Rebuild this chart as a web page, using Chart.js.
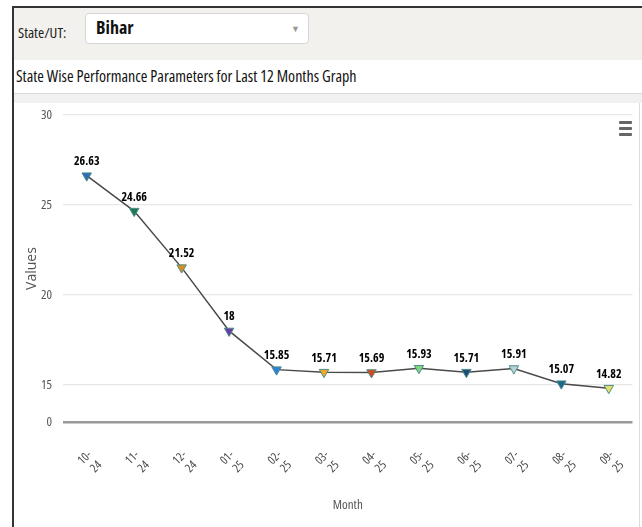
<!DOCTYPE html>
<html>
<head>
<meta charset="utf-8">
<script src="https://cdn.jsdelivr.net/npm/chart.js@4.4.1/dist/chart.umd.min.js"></script>
<style>
  html, body { margin:0; padding:0; background:#fff; width:642px; height:527px; overflow:hidden; }
  body { position:relative; font-family:'Open Sans',sans-serif; font-stretch:75%; }
  .frame-top { position:absolute; left:12px; top:6px; width:630px; height:2px; background:#333; }
  .frame-left { position:absolute; left:12px; top:6px; width:2px; height:521px; background:#333; }
  .header { position:absolute; left:14px; top:8px; width:628px; height:52px; background:#f2f1ed; }
  .lbl { position:absolute; left:4px; top:14px; font-size:15px; color:#222; white-space:nowrap; }
  .select { position:absolute; left:85px; top:13px; width:224px; height:31px; background:#fff; border:1px solid #d6d6d6; border-radius:4px; box-sizing:border-box; }
  .select .val { position:absolute; left:10px; top:1px; font-size:18px; font-weight:bold; color:#111; }
  .select .arr { position:absolute; right:8px; top:8px; font-size:9px; color:#999; font-stretch:100%; }
  .titlerow { position:absolute; left:14px; top:60px; width:628px; height:33px; background:#fff; border-bottom:1px solid #d8d8d8; }
  .title { position:absolute; left:2px; top:5px; font-size:16px; color:#111; white-space:nowrap; }
  .band { position:absolute; left:14px; top:94px; width:628px; height:9px; background:#f1f1f1; }
  .rline { position:absolute; left:639px; top:103px; width:1px; height:424px; background:#dcdcdc; }
  #wrap { position:absolute; left:13px; top:103px; width:626px; height:424px; }
  .menu { position:absolute; left:619px; top:119px; width:14px; height:19px; }
  .menu div { position:absolute; left:0; width:13px; height:3px; background:#666; border-radius:1px; }
</style>
</head>
<body>
<div class="frame-top"></div>
<div class="header">
  <div class="lbl">State/UT:</div>
</div>
<div class="select"><div class="val">Bihar</div><div class="arr">▼</div></div>
<div class="titlerow"><div class="title">State Wise Performance Parameters for Last 12 Months Graph</div></div>
<div class="band"></div>
<div class="frame-left"></div>
<div class="rline"></div>
<div id="wrap"><canvas id="c" width="626" height="424"></canvas></div>
<div class="menu"><div style="top:2px"></div><div style="top:8px"></div><div style="top:14px"></div></div>
<script>
const months = [['10-','24'],['11-','24'],['12-','24'],['01-','25'],['02-','25'],['03-','25'],['04-','25'],['05-','25'],['06-','25'],['07-','25'],['08-','25'],['09-','25']];
const values = [26.63, 24.66, 21.52, 18, 15.85, 15.71, 15.69, 15.93, 15.71, 15.91, 15.07, 14.82];
const markerColors = ['#2f6db5','#1f7a50','#d98c1f','#6a3aa8','#2f80d8','#f0aa2a','#d24a1a','#7fd67f','#1d4f78','#b8d2d6','#176a8a','#e6df6a'];
const yTickValues = [15, 20, 25, 30];
const yAxisFloor = 12.94;   // the axis bottom, labelled "0" in the reference
const yAxisMax = 30;

const fam = "'Open Sans',sans-serif";

const valueLabels = {
  id: 'valueLabels',
  afterDatasetsDraw(chart) {
    const ctx = chart.ctx;
    const meta = chart.getDatasetMeta(0);
    ctx.save();
    ctx.font = "bold condensed 12px " + fam;
    ctx.fillStyle = '#000';
    ctx.textAlign = 'center';
    ctx.textBaseline = 'bottom';
    meta.data.forEach((pt, i) => {
      ctx.fillText(String(values[i]), pt.x, pt.y - 8);
    });
    ctx.restore();
  }
};

new Chart(document.getElementById('c'), {
  type: 'line',
  data: {
    labels: months,
    datasets: [{
      data: values,
      borderColor: '#4a4a4a',
      borderWidth: 1.5,
      tension: 0,
      pointStyle: 'triangle',
      rotation: 180,
      pointRadius: 5.5,
      pointHoverRadius: 5.5,
      pointBackgroundColor: markerColors,
      pointBorderColor: '#4f8c8c',
      pointBorderWidth: 1
    }]
  },
  options: {
    responsive: false,
    animation: false,
    events: [],
    layout: { padding: { top: 12, right: 4, left: 0, bottom: 14 } },
    plugins: { legend: { display: false }, tooltip: { enabled: false } },
    scales: {
      x: {
        offset: true,
        grid: { display: false, offset: true },
        border: { display: false },
        ticks: {
          color: '#444',
          font: { size: 12, family: fam, weight: 'normal condensed' },
          minRotation: 45,
          maxRotation: 45,
          padding: 18,
          labelOffset: 3,
          autoSkip: false
        },
        title: { display: true, text: 'Month', color: '#555', font: { size: 13, family: fam, weight: 'normal condensed' }, padding: { top: 0, bottom: 0 } },
        afterFit(scale) { scale.height = 91; scale.paddingLeft = 0; scale.paddingRight = 0; }
      },
      y: {
        min: yAxisFloor,
        max: yAxisMax,
        afterBuildTicks(scale) {
          scale.ticks = [yAxisFloor].concat(yTickValues).map(v => ({ value: v }));
        },
        grid: {
          drawTicks: false,
          color: ctx => (ctx.tick && ctx.tick.value === yAxisFloor) ? '#9a9a9a' : '#e8e8e8',
          lineWidth: ctx => (ctx.tick && ctx.tick.value === yAxisFloor) ? 2.5 : 1.2
        },
        border: { display: false },
        ticks: {
          color: '#555',
          font: { size: 13, family: fam, weight: 'normal condensed' },
          padding: 11,
          callback: v => (v === yAxisFloor ? '0' : String(v))
        },
        title: { display: true, text: 'Values', color: '#555', font: { size: 14, family: fam }, padding: { top: 11, bottom: 0 } },
        afterFit(scale) { scale.width = 50; scale.paddingTop = 0; scale.paddingBottom = 0; }
      }
    }
  },
  plugins: [valueLabels]
});
</script>
</body>
</html>
